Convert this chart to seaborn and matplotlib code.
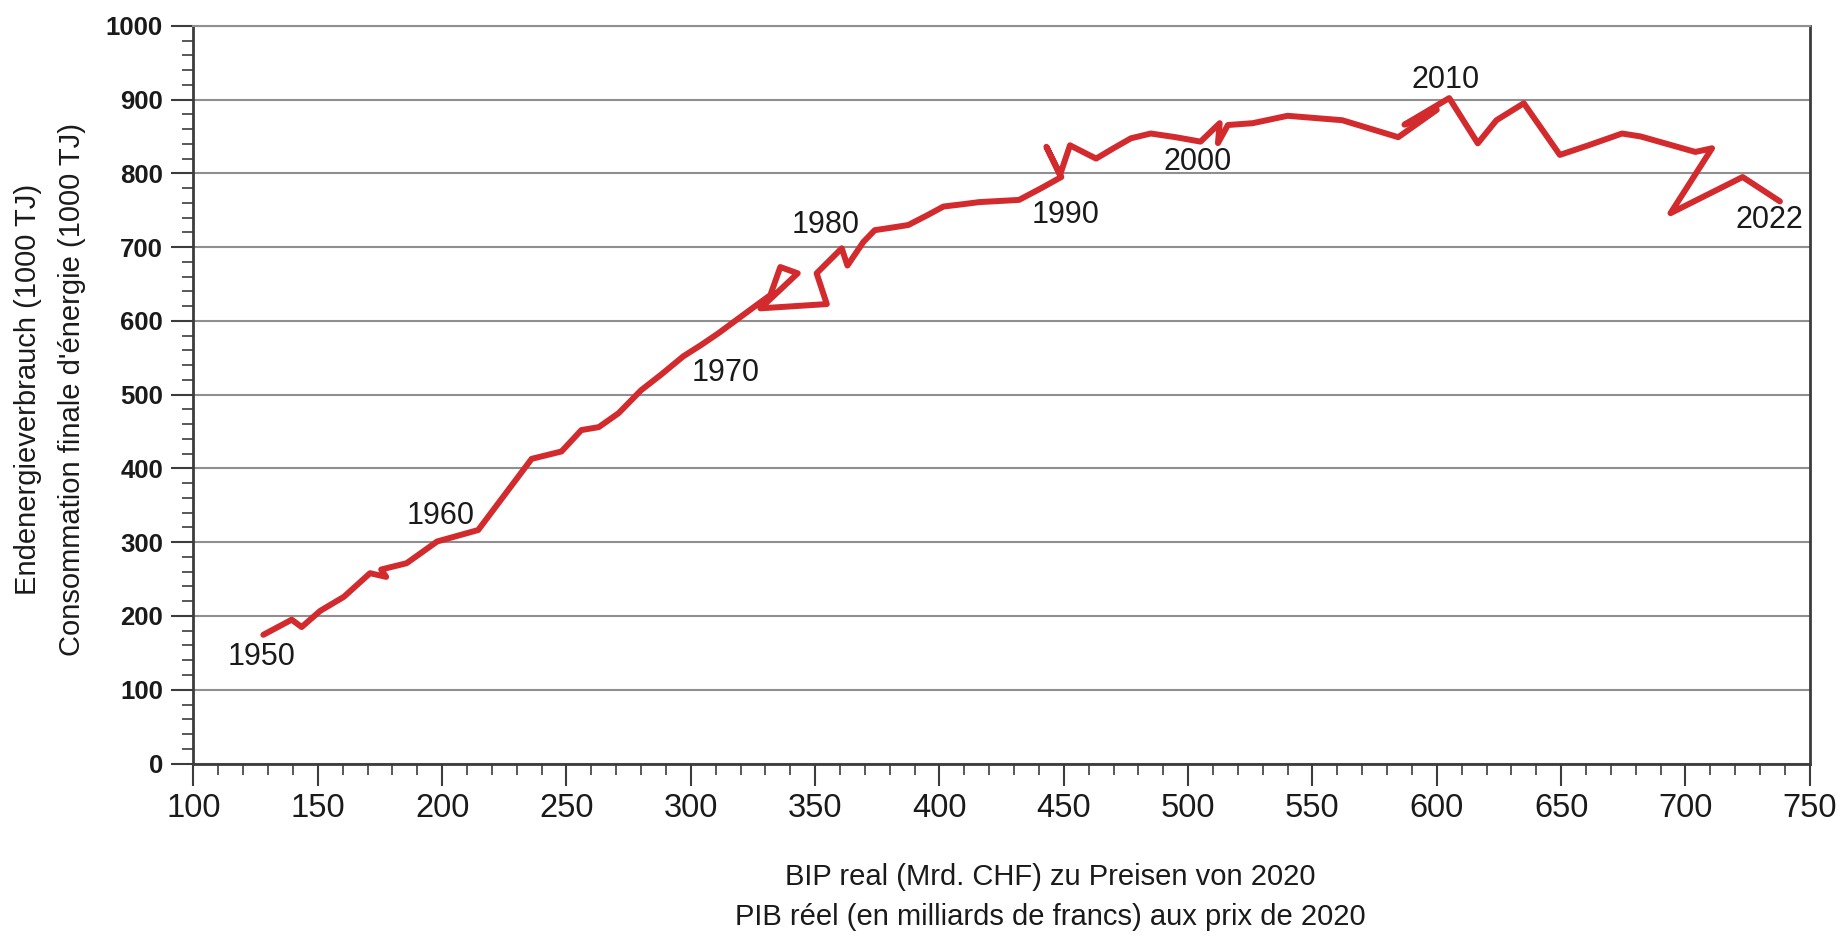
import matplotlib
matplotlib.use("Agg")
import matplotlib.pyplot as plt
from matplotlib.ticker import MultipleLocator
import seaborn as sns
import pandas as pd

# Real GDP (bn CHF, 2020 prices) vs final energy consumption (1000 TJ), 1950-2022
years = list(range(1950, 2023))
gdp = [
    128.1, 139.5, 143.5, 151.0, 160.5, 171.0, 177.5, 175.5, 185.7, 198.0,
    214.5, 236.0, 248.0, 256.0, 263.0, 271.0, 280.0, 288.0, 297.0, 304.0,
    311.0, 326.5, 332.0, 336.0, 343.0, 328.0, 354.7, 350.6, 360.7, 363.0,
    369.4, 374.0, 380.0, 387.5, 395.0, 401.6, 409.0, 416.0, 432.0, 441.0,
    449.0, 443.0, 448.5, 452.5, 463.0, 470.0, 477.0, 485.0, 495.0, 500.0,
    505.0, 512.7, 512.0, 516.0, 526.0, 540.0, 562.0, 584.5, 600.0, 587.0,
    605.0, 616.5, 624.0, 635.0, 649.5, 661.0, 674.5, 682.0, 704.0, 710.7,
    694.0, 723.0, 738.0,
]
energy = [
    174.5, 195.0, 185.0, 207.0, 226.0, 258.0, 253.0, 263.0, 271.5, 301.0,
    316.5, 413.0, 423.0, 452.0, 456.0, 475.0, 506.0, 527.0, 552.0, 567.0,
    583.0, 621.5, 635.0, 673.0, 664.5, 617.0, 622.8, 664.5, 698.4, 675.0,
    707.0, 723.0, 726.0, 730.0, 743.0, 755.0, 758.0, 761.0, 764.0, 780.0,
    795.0, 836.0, 798.0, 838.0, 820.0, 834.0, 847.5, 854.0, 849.0, 846.0,
    843.0, 868.0, 841.0, 865.5, 868.0, 878.0, 872.0, 849.0, 886.0, 866.0,
    902.0, 840.7, 872.0, 895.0, 825.0, 838.0, 854.0, 850.0, 829.0, 834.0,
    746.0, 795.0, 762.0,
]
label_years = [1950, 1960, 1970, 1980, 1990, 2000, 2010, 2022]

x_title = ["BIP real (Mrd. CHF) zu Preisen von 2020",
           "PIB réel (en milliards de francs) aux prix de 2020"]
y_title = ["Endenergieverbrauch (1000 TJ)",
           "Consommation finale d'énergie (1000 TJ)"]

df = pd.DataFrame({"year": years, "gdp": gdp, "energy": energy})

sns.set_theme(style="white")
plt.rcParams["font.family"] = ["Liberation Sans", "DejaVu Sans"]

text_color = "#1a1a1a"
line_color = "#d32a2e"

fig = plt.figure(figsize=(18.39, 9.38), dpi=100)
ax = fig.add_axes([0.1052, 0.186, 0.8789, 0.7865])

sns.lineplot(data=df, x="gdp", y="energy", sort=False, estimator=None,
             color=line_color, linewidth=4.3, ax=ax)

ax.set_xlim(100, 750)
ax.set_ylim(0, 1000)
ax.xaxis.set_major_locator(MultipleLocator(50))
ax.xaxis.set_minor_locator(MultipleLocator(10))
ax.yaxis.set_major_locator(MultipleLocator(100))
ax.yaxis.set_minor_locator(MultipleLocator(20))

ax.grid(axis="y", which="major", color="#8f8f8f", linewidth=1.5)
ax.set_axisbelow(True)

for side in ["left", "bottom", "right"]:
    ax.spines[side].set_color("#3c3c3c")
    ax.spines[side].set_linewidth(2)
ax.spines["top"].set_color("#8f8f8f")
ax.spines["top"].set_linewidth(1.5)

ax.tick_params(axis="both", which="major", direction="out", length=16,
               width=1.5, color="#3c3c3c", labelcolor=text_color)
ax.tick_params(axis="both", which="minor", direction="out", length=8,
               width=1.2, color="#3c3c3c")
ax.tick_params(axis="y", which="major", pad=6, left=True, labelsize=18.5)
ax.tick_params(axis="y", which="minor", left=True)
ax.tick_params(axis="x", which="major", pad=5, bottom=True, labelsize=23.5)
ax.tick_params(axis="x", which="minor", bottom=True)
for lab in ax.get_yticklabels():
    lab.set_fontweight("bold")

ax.set_xlabel("")
ax.set_ylabel("")

# year labels, offset from their points in pixels
offsets = {1950: (-2, -22), 1960: (-38, 14), 1970: (7, -40), 1980: (-38, 17),
           1990: (4, -38), 2000: (-3, -20), 2010: (-4, 18), 2022: (-11, -19)}
for yr in label_years:
    row = df[df["year"] == yr].iloc[0]
    ax.annotate(str(yr), (row["gdp"], row["energy"]), xytext=offsets[yr],
                textcoords="offset pixels", ha="center", va="center",
                fontsize=22, color=text_color)

fig.text(0.571, 0.065, x_title[0], ha="center", va="center",
         fontsize=21, color=text_color)
fig.text(0.571, 0.0225, x_title[1], ha="center", va="center",
         fontsize=21, color=text_color)
fig.text(0.0152, 0.585, y_title[0], ha="center", va="center", rotation=90,
         fontsize=21, color=text_color)
fig.text(0.0392, 0.585, y_title[1], ha="center", va="center", rotation=90,
         fontsize=21, color=text_color)

fig.savefig("out.png", dpi=100)
